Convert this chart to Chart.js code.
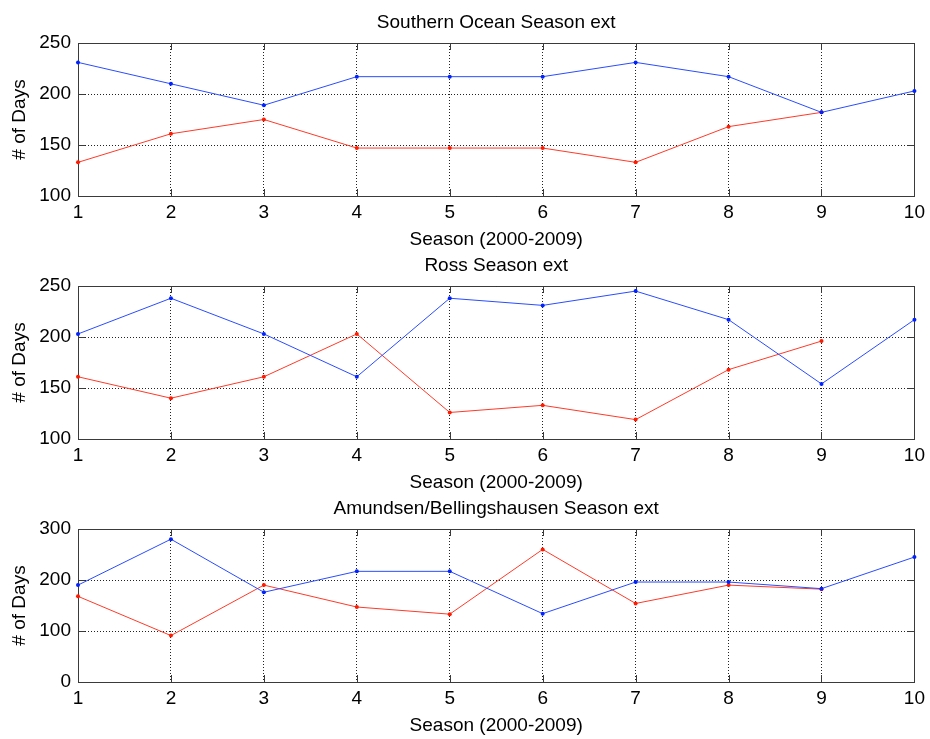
<!DOCTYPE html>
<html>
<head>
<meta charset="utf-8">
<script src="https://cdn.jsdelivr.net/npm/chart.js@4.4.1/dist/chart.umd.min.js"></script>
<style>
  html, body { margin: 0; padding: 0; background: #fff; overflow: hidden; width: 930px; height: 739px; }
  .wrap { position: absolute; left: 0; width: 930px; height: 255px; }
  canvas { display: block; }
</style>
</head>
<body>
<div class="wrap" style="top:0px"><canvas id="c1" width="930" height="255"></canvas></div>
<div class="wrap" style="top:243px"><canvas id="c2" width="930" height="255"></canvas></div>
<div class="wrap" style="top:486px"><canvas id="c3" width="930" height="255"></canvas></div>
<script>
// ---- data ----
const seasons = [1, 2, 3, 4, 5, 6, 7, 8, 9, 10];

const southernBlue = [231, 210, 189, 217, 217, 217, 231, 217, 182, 203];
const southernRed  = [133, 161, 175, 147, 147, 147, 133, 168, 182, null];

const rossBlue = [203, 238, 203, 161, 238, 231, 245, 217, 154, 217];
const rossRed  = [161, 140, 161, 203, 126, 133, 119, 168, 196, null];

const amundsenBlue = [190, 280, 176, 217, 217, 134, 196, 196, 183, 245];
const amundsenRed  = [168, 91, 190, 147, 133, 260, 154, 190, 182, null];

const yTicksA = [100, 150, 200, 250];
const yTicksB = [0, 100, 200, 300];

const titles = ["Southern Ocean Season ext", "Ross Season ext", "Amundsen/Bellingshausen Season ext"];
const xLabel = "Season (2000-2009)";
const yLabel = "# of Days";

// ---- style ----
const FONT = { family: "'Liberation Sans', Arial, Helvetica, sans-serif", size: 19, lineHeight: 1.2 };
const AXIS_COLOR = '#3a3a3a';
const GRID_COLOR = '#222';
const BLUE_LINE = '#2a4cff', BLUE_PT = '#0022ff';
const RED_LINE = '#ff3a28', RED_PT = '#ff1a00';

const innerTicks = {
  id: 'innerTicks',
  beforeDatasetsDraw(chart) {
    const { ctx, chartArea: a, scales } = chart;
    const len = 7;
    ctx.save();
    ctx.strokeStyle = AXIS_COLOR;
    ctx.lineWidth = 1;
    ctx.beginPath();
    scales.x.ticks.forEach((t, i) => {
      const px = Math.round(scales.x.getPixelForTick(i)) + 0.5;
      ctx.moveTo(px, a.bottom); ctx.lineTo(px, a.bottom - len);
      ctx.moveTo(px, a.top); ctx.lineTo(px, a.top + len);
    });
    scales.y.ticks.forEach((t, i) => {
      const py = Math.round(scales.y.getPixelForTick(i)) + 0.5;
      ctx.moveTo(a.left, py); ctx.lineTo(a.left + len, py);
      ctx.moveTo(a.right, py); ctx.lineTo(a.right - len, py);
    });
    ctx.stroke();
    ctx.restore();
  }
};

function makeChart(id, title, blue, red, yTicks) {
  const yMin = yTicks[0], yMax = yTicks[yTicks.length - 1];
  const step = yTicks[1] - yTicks[0];
  return new Chart(document.getElementById(id), {
    type: 'line',
    data: {
      labels: seasons,
      datasets: [
        { label: 'Series 1', data: blue, borderColor: BLUE_LINE, backgroundColor: BLUE_PT,
          pointBackgroundColor: BLUE_PT, borderWidth: 1, pointRadius: 2, pointBorderWidth: 0,
          tension: 0, spanGaps: false },
        { label: 'Series 2', data: red, borderColor: RED_LINE, backgroundColor: RED_PT,
          pointBackgroundColor: RED_PT, borderWidth: 1, pointRadius: 2, pointBorderWidth: 0,
          tension: 0, spanGaps: false }
      ]
    },
    options: {
      responsive: false,
      animation: false,
      devicePixelRatio: 1,
      layout: { padding: { left: 0, right: 14, top: 0, bottom: 0 } },
      plugins: { legend: { display: false }, title: { display: false }, tooltip: { enabled: false } },
      scales: {
        x: {
          type: 'category', position: 'bottom', offset: false,
          grid: { display: true, color: GRID_COLOR, lineWidth: 1, drawTicks: false, tickBorderDash: [1, 2] },
          border: { display: true, color: AXIS_COLOR, width: 1, dash: [1, 2] },
          ticks: { color: '#000', font: FONT, padding: 5, maxRotation: 0, autoSkip: false },
          title: { display: true, text: xLabel, color: '#000', font: FONT, padding: { top: 0, bottom: 3.6 } },
          afterFit(s) { s.height = 59; }
        },
        xTop: {
          type: 'category', position: 'top', offset: false, axis: 'x',
          grid: { display: false, drawTicks: false },
          border: { display: true, color: AXIS_COLOR, width: 1 },
          ticks: { display: false },
          title: { display: true, text: title, color: '#000', font: FONT, padding: { top: 10.9, bottom: 0 } },
          afterFit(s) { s.height = 43; }
        },
        y: {
          type: 'linear', position: 'left', min: yMin, max: yMax,
          grid: { display: true, color: GRID_COLOR, lineWidth: 1, drawTicks: false },
          border: { display: true, color: AXIS_COLOR, width: 1, dash: [1, 2] },
          ticks: { stepSize: step, color: '#000', font: FONT, padding: 7 },
          title: { display: true, text: yLabel, color: '#000', font: FONT, padding: { top: 8.6, bottom: 0 } },
          afterFit(s) { s.width = 78; }
        },
        yRight: {
          type: 'linear', position: 'right', min: yMin, max: yMax, axis: 'y',
          grid: { display: false, drawTicks: false },
          border: { display: true, color: AXIS_COLOR, width: 1 },
          ticks: { display: false },
          afterFit(s) { s.width = 0; }
        }
      }
    },
    plugins: [innerTicks]
  });
}

// Grid lines dotted: set via scriptable borderDash on grid through border.dash (Chart.js v4 uses border.dash for the axis line, grid dash via tickBorderDash). Use a dedicated approach below.
Chart.defaults.borderColor = GRID_COLOR;

const charts = [
  makeChart('c1', titles[0], southernBlue, southernRed, yTicksA),
  makeChart('c2', titles[1], rossBlue, rossRed, yTicksA),
  makeChart('c3', titles[2], amundsenBlue, amundsenRed, yTicksB)
];
</script>
</body>
</html>
